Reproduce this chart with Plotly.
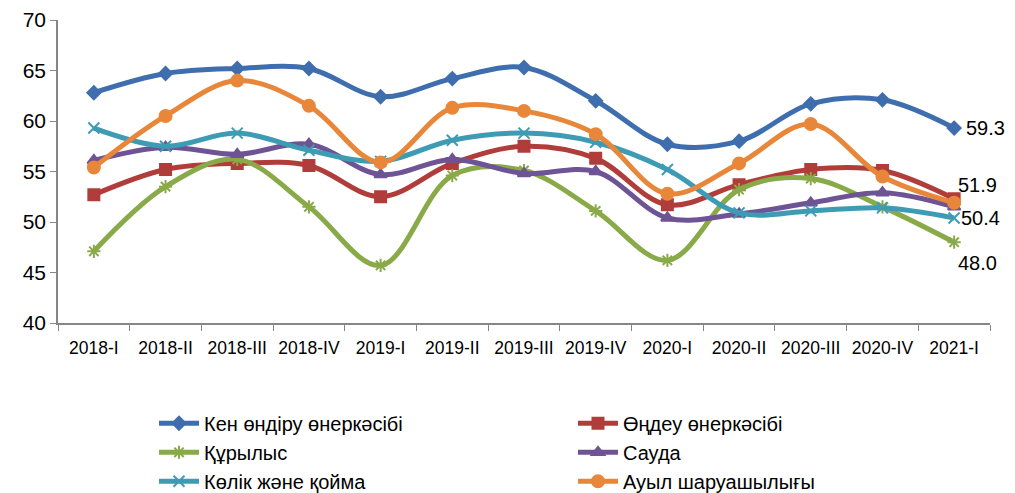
import plotly.graph_objects as go

categories = ["2018-I", "2018-II", "2018-III", "2018-IV", "2019-I", "2019-II", "2019-III",
              "2019-IV", "2020-I", "2020-II", "2020-III", "2020-IV", "2021-I"]

mining = [62.8, 64.7, 65.2, 65.2, 62.4, 64.2, 65.3, 62.0, 57.7, 58.0, 61.7, 62.1, 59.3]
manufacturing = [52.7, 55.2, 55.8, 55.6, 52.5, 55.8, 57.5, 56.3, 51.7, 53.7, 55.2, 55.1, 52.3]
construction = [47.1, 53.5, 56.2, 51.5, 45.7, 54.6, 55.1, 51.1, 46.2, 53.2, 54.3, 51.5, 48.0]
trade = [56.1, 57.4, 56.7, 57.7, 54.7, 56.2, 54.8, 55.0, 50.4, 50.8, 51.9, 52.9, 51.5]
transport = [59.3, 57.5, 58.8, 57.1, 56.0, 58.1, 58.8, 57.9, 55.2, 50.9, 51.1, 51.4, 50.4]
agriculture = [55.4, 60.5, 64.0, 61.5, 55.9, 61.3, 61.0, 58.7, 52.8, 55.8, 59.7, 54.5, 51.9]

names = ["Кен өндіру өнеркәсібі", "Өңдеу өнеркәсібі", "Құрылыс", "Сауда",
         "Көлік және қойма", "Ауыл шаруашылығы"]
series = [mining, manufacturing, construction, trade, transport, agriculture]
colors = ["#3F6EAE", "#B03D3A", "#89AA48", "#6E5494", "#3E9BB4", "#E8873A"]
symbols = ["diamond", "square", "asterisk-open", "triangle-up", "x-thin-open", "circle"]
msizes = [10, 11, 11, 11, 11, 12]
legend_ids = ["legend", "legend2", "legend", "legend2", "legend", "legend2"]

# labels shown at last point: (series index, label text, x offset px, y offset px)
labels = [(0, "59.3", 10, 0), (5, "51.9", 2, 18), (4, "50.4", 5, 0), (2, "48.0", 2, -21)]

fig = go.Figure()
for name, vals, col, sym, ms, lg in zip(names, series, colors, symbols, msizes, legend_ids):
    fig.add_trace(go.Scatter(
        x=categories, y=vals, name=name, mode="lines+markers", legend=lg,
        line=dict(color=col, width=5, shape="spline", smoothing=1.0),
        marker=dict(symbol=sym, size=ms, color=col, line=dict(color=col, width=2)),
    ))

for idx, text, xs, ys in labels:
    fig.add_annotation(x=categories[-1], y=series[idx][-1], text=text, showarrow=False,
                       xanchor="left", yanchor="middle", xshift=xs, yshift=ys,
                       font=dict(size=20, color="#000000"))

font_family = "Liberation Sans, Arial, sans-serif"
legend_common = dict(orientation="v", yref="container", yanchor="top", y=0.181,
                     xref="container", xanchor="left",
                     font=dict(size=20, color="#000000"), bgcolor="rgba(0,0,0,0)",
                     itemwidth=40, tracegroupgap=0)

fig.update_layout(
    width=1015, height=493,
    margin=dict(l=58, r=25, t=20, b=170, autoexpand=False),
    paper_bgcolor="white", plot_bgcolor="white",
    font=dict(family=font_family, color="#000000"),
    showlegend=True,
    legend=dict(x=154 / 1015, **legend_common),
    legend2=dict(x=573 / 1015, **legend_common),
    xaxis=dict(type="category", range=[-0.5, 12.5], showline=True, linecolor="#868686",
               linewidth=1.5, ticks="outside", tickson="boundaries", ticklen=6,
               tickcolor="#868686", showgrid=False, tickfont=dict(size=17.5),
               tickangle=0, ticklabelstandoff=8, zeroline=False, automargin=False),
    yaxis=dict(range=[40, 70], dtick=5, showline=True, linecolor="#868686", linewidth=1.5,
               ticks="outside", ticklen=6, tickcolor="#868686", showgrid=False,
               tickfont=dict(size=21), zeroline=False, automargin=False),
)

fig.write_html(
    "out.html",
    config={"displayModeBar": False},
    post_script="document.body.style.margin='0';document.body.style.overflow='hidden';",
)
